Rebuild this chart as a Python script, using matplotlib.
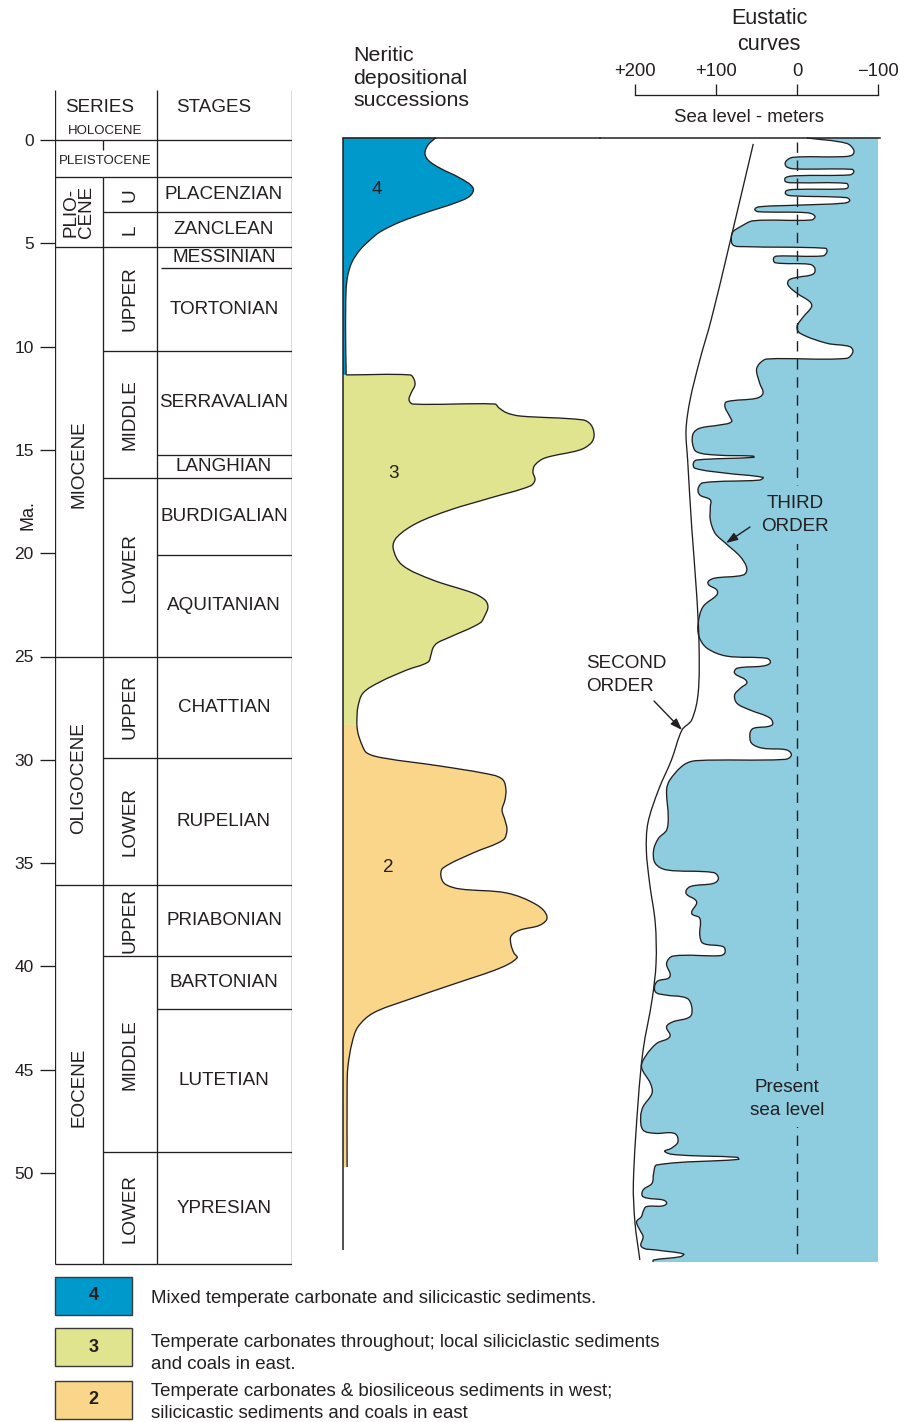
import math
import matplotlib.pyplot as plt
from matplotlib.patches import Rectangle, PathPatch
from matplotlib.path import Path

plt.rcParams['font.family'] = ['Liberation Sans', 'DejaVu Sans']
plt.rcParams['lines.scale_dashes'] = False

W, H = 910, 1422
INK = '#231f20'
SEA = '#8dcddf'
LW = 0.95

# ---------------- stratigraphic column (Ma) ----------------
series_names = ['PLEISTOCENE', 'PLIO-\nCENE', 'MIOCENE', 'OLIGOCENE', 'EOCENE']
series_bounds = [0.0, 1.8, 5.2, 25.0, 36.05, 54.4]
subseries_names = ['U', 'L', 'UPPER', 'MIDDLE', 'LOWER', 'UPPER', 'LOWER',
                   'UPPER', 'MIDDLE', 'LOWER']
subseries_bounds = [1.8, 3.5, 5.2, 10.2, 16.35, 25.0, 29.9, 36.05, 39.5, 49.0, 54.4]
stage_names = ['PLACENZIAN', 'ZANCLEAN', 'MESSINIAN', 'TORTONIAN', 'SERRAVALIAN',
               'LANGHIAN', 'BURDIGALIAN', 'AQUITANIAN', 'CHATTIAN', 'RUPELIAN',
               'PRIABONIAN', 'BARTONIAN', 'LUTETIAN', 'YPRESIAN']
stage_bounds = [1.8, 3.5, 5.2, 6.2, 10.2, 15.25, 16.35, 20.08, 25.0, 29.9,
                36.05, 39.5, 42.05, 49.0, 54.4]

# ---------------- neritic depositional successions ----------------
# extent of each succession (relative units, 0-100) against age (Ma)
seq4_ma = [-0.12, 0.24, 0.63, 0.97, 1.36, 1.84, 2.32, 2.71, 3.05, 3.48, 3.97,
           4.45, 4.84, 5.32, 5.91, 6.53, 7.26, 9.2, 11.13, 11.37]
seq4_ext = [36.2, 33.1, 31.9, 33.1, 37.7, 45.5, 50.6, 49.4, 43.6, 33.1, 22.2,
            14.4, 10.5, 6.6, 3.5, 1.9, 1.2, 1.0, 1.2, 1.2]
seq3_ma = [11.37, 11.37, 11.57, 11.86, 12.25, 12.58, 12.78, 12.78, 12.97, 13.21,
           13.36, 13.55, 13.79, 14.28, 14.67, 15.0, 15.39, 15.73, 16.07, 16.46,
           16.75, 17.33, 17.91, 18.54, 19.22, 19.75, 20.57, 21.30, 21.93, 22.27,
           22.6, 22.99, 23.38, 24.06, 24.35, 24.59, 24.93, 25.27, 25.65, 26.23,
           26.77, 27.44, 28.07, 28.31]
seq3_ext = [1.2, 26.1, 27.6, 28.0, 26.5, 25.7, 27.2, 59.1, 60.7, 63.8,
            68.9, 93.4, 96.5, 97.7, 96.5, 92.2, 78.6, 74.7, 73.9, 74.7,
            72.8, 57.2, 41.6, 28.8, 21.0, 19.5, 23.0, 35.0, 50.6, 55.3,
            56.4, 55.3, 53.3, 41.6, 36.6, 35.0, 34.2, 33.1, 24.9, 14.4,
            7.8, 5.8, 5.4, 5.4]
seq2_ma = [28.31, 28.70, 29.28, 29.67, 29.91, 30.30, 30.74, 30.98, 31.46, 31.95,
           32.43, 32.91, 33.40, 33.88, 34.51, 35.24, 35.62, 36.01, 36.25, 36.45,
           37.03, 37.61, 38.0, 38.24, 38.53, 38.96, 39.35, 39.59, 40.08, 40.80,
           41.63, 42.26, 42.93, 43.71, 44.87, 45.84, 49.71]
seq2_ext = [5.4, 5.8, 7.4, 9.3, 15.6, 37.7, 58.4, 62.3, 63.4, 63.0,
            61.9, 63.0, 63.8, 62.3, 50.6, 38.9, 38.1, 39.7, 45.5, 63.8,
            75.5, 79.4, 76.7, 68.9, 65.4, 65.4, 66.5, 67.7, 61.1, 44.4,
            24.9, 11.7, 5.8, 3.5, 1.9, 1.6, 1.6]
seq_labels = ['4', '3', '2']
seq_colors = ['#0099cc', '#e0e48e', '#f9d68a']
legend_texts = ['Mixed temperate carbonate and silicicastic sediments.',
                'Temperate carbonates throughout; local siliciclastic sediments\nand coals in east.',
                'Temperate carbonates & biosiliceous sediments in west;\nsilicicastic sediments and coals in east']

# ---------------- eustatic curves (sea level, m) ----------------
third_ma = [-0.10, 0.16, 0.48, 0.73, 0.81, 0.84, 1.05, 1.29, 1.40, 1.42,
            1.56, 1.69, 1.73, 1.82, 2.02, 2.07, 2.10, 2.29, 2.37, 2.39,
            2.45, 2.61, 2.70, 2.79, 2.94, 3.06, 3.15, 3.23, 3.35, 3.47,
            3.52, 3.68, 3.87, 3.91, 4.20, 4.44, 4.68, 5.08, 5.16, 5.24,
            5.41, 5.61, 5.62, 5.73, 5.94, 6.02, 6.21, 6.49, 6.65, 6.78,
            7.02, 7.42, 7.83, 8.07, 8.55, 9.04, 9.36, 9.84, 10.00, 10.25,
            10.57, 10.60, 10.81, 11.13, 11.78, 12.26, 12.50, 12.67, 12.91, 13.39,
            13.64, 13.79, 13.95, 14.20, 14.68, 15.09, 15.25, 15.30, 15.36, 15.49,
            15.65, 15.89, 16.13, 16.33, 16.46, 16.59, 16.86, 17.18, 17.42, 17.75,
            18.39, 19.04, 19.49, 20.17, 20.73, 21.05, 21.22, 21.46, 21.78, 22.02,
            22.59, 23.39, 24.04, 24.60, 24.98, 25.09, 25.30, 25.46, 25.57, 25.81,
            26.22, 26.54, 26.86, 27.27, 27.59, 27.99, 28.32, 28.48, 28.72, 29.20,
            29.44, 29.52, 29.77, 29.98, 30.04, 30.25, 30.98, 31.46, 32.75, 33.40,
            33.80, 34.37, 35.01, 35.33, 35.46, 35.74, 35.98, 36.14, 36.46, 36.87,
            37.43, 37.67, 38.48, 38.88, 39.05, 39.34, 39.48, 39.50, 39.85, 40.50,
            40.74, 41.22, 41.38, 41.54, 41.95, 42.43, 42.68, 42.92, 43.40, 43.72,
            44.29, 44.86, 45.66, 46.14, 46.79, 47.28, 47.92, 48.08, 48.09, 48.49,
            48.80, 48.97, 49.13, 49.24, 49.34, 49.61, 50.01, 50.50, 50.82, 51.15,
            51.31, 51.47, 51.60, 51.63, 51.87, 52.11, 52.36, 52.76, 53.08, 53.57,
            53.73, 53.92, 54.05, 54.21, 54.31]
third_sl = [-12, -61, -70, -68, -53, 5, 14, 13, 2, -68,
            -70, -65, 0, 14, 14, 0, -61, -63, -57, 0,
            13, 14, 7, -61, -65, -57, -4, 46, 52, 48,
            -12, -22, -18, 54, 70, 79, 81, 79, 66, -35,
            -37, -32, 25, 29, 27, -16, -22, -20, 0, 10,
            11, 0, -16, -18, -8, 0, -4, -37, -65, -69,
            -61, 37, 46, 50, 46, 42, 50, 87, 89, 83,
            81, 95, 120, 128, 129, 124, 99, 54, 53, 124,
            128, 126, 87, 42, 46, 116, 122, 120, 107, 107,
            107, 101, 89, 70, 62, 66, 103, 110, 99, 99,
            116, 122, 121, 111, 87, 37, 33, 42, 74, 77,
            62, 70, 77, 74, 58, 33, 31, 54, 58, 56,
            42, 13, 7, 15, 124, 140, 157, 161, 159, 161,
            171, 177, 175, 161, 103, 97, 103, 132, 137, 124,
            130, 120, 120, 116, 91, 89, 95, 153, 161, 157,
            173, 175, 163, 136, 130, 132, 153, 161, 157, 173,
            186, 192, 181, 179, 190, 193, 190, 175, 151, 147,
            155, 163, 144, 74, 72, 173, 177, 179, 190, 190,
            165, 161, 167, 186, 190, 192, 198, 194, 190, 192,
            173, 140, 144, 177, 178]
second_ma = [0.19, 5.32, 8.71, 10.65, 12.58, 14.04, 15.49, 18.73, 21.93, 24.35,
             26.77, 28.07, 28.56, 30.01, 31.46, 33.05, 34.36, 35.96, 37.90, 39.83,
             41.63, 44.05, 46.47, 50.48, 52.42, 54.21]
second_sl = [54, 85, 106, 120, 132, 137, 135, 130, 124, 121,
             122, 130, 142, 155, 171, 184, 186, 182, 175, 174,
             179, 190, 196, 202, 200, 194]
sl_ticks = [200, 100, 0, -100]
sl_ticklabels = ['+200', '+100', '0', '\u2212100']

# ---------------- layout helpers ----------------
PX_PER_MA = 20.66
PX_PER_M = 0.81
PX_PER_EXT = 2.57


def ma_at(py):
    # age at a pixel row of the figure
    return (py - 140.0) / PX_PER_MA


def sl_at(px):
    # sea level at a pixel column of the figure
    return (797.0 - px) / PX_PER_M


def curve(xs, ys, sx, sy):
    # bezier path through every read point, tangents from the neighbours
    P = [(x * sx, y * sy) for x, y in zip(xs, ys)]
    n = len(P)

    def tangent(i):
        a, b = P[max(i - 1, 0)], P[min(i + 1, n - 1)]
        dx, dy = b[0] - a[0], b[1] - a[1]
        d = math.hypot(dx, dy) or 1.0
        return dx / d, dy / d

    verts, codes = [P[0]], [Path.MOVETO]
    for i in range(n - 1):
        p1, p2 = P[i], P[i + 1]
        L = math.hypot(p2[0] - p1[0], p2[1] - p1[1]) / 3
        t1, t2 = tangent(i), tangent(i + 1)
        verts += [(p1[0] + t1[0] * L, p1[1] + t1[1] * L),
                  (p2[0] - t2[0] * L, p2[1] - t2[1] * L), p2]
        codes += [Path.CURVE4] * 3
    return [(x / sx, y / sy) for x, y in verts], codes


fig = plt.figure(figsize=(W / 100, H / 100), dpi=100)


def px_axes(x0, x1, y0, y1):
    ax = fig.add_axes([x0 / W, 1 - y1 / H, (x1 - x0) / W, (y1 - y0) / H])
    ax.patch.set_alpha(0)
    return ax


YLIM = (ma_at(1270), ma_at(0))
PANEL_TOP = ma_at(137.5)
TXT = dict(color=INK, ha='center', va='center')
FS = 13.6

# ---------------- stratigraphic table ----------------
ax = px_axes(55, 292, 0, 1270)
ax.set_xlim(0, 237)
ax.set_ylim(*YLIM)
for s in ax.spines.values():
    s.set_visible(False)
ax.set_xticks([])
ax.set_yticks(range(0, 51, 5))
ax.tick_params(axis='y', length=10.8, width=LW, color=INK, labelsize=12.5,
               labelcolor=INK, pad=4.5)
c0, c1, c2, c3 = 0, 48, 102, 237
bottom = series_bounds[-1]
ax.vlines([c0, c2, c3], ma_at(90), bottom, color=INK, lw=LW)
ax.vlines(c1, series_bounds[1], bottom, color=INK, lw=LW)
ax.vlines(c1, 0, ma_at(150), color=INK, lw=LW)
ax.hlines(series_bounds, c0, c1, color=INK, lw=LW)
ax.hlines([0] + subseries_bounds, c1, c2, color=INK, lw=LW)
ax.hlines([0] + [b for b in stage_bounds if b != 6.2], c2, c3, color=INK, lw=LW)
ax.hlines(6.2, c2 + 4, c3, color=INK, lw=LW)

ax.text(45, ma_at(107), 'SERIES', fontsize=FS, **TXT)
ax.text(159, ma_at(108), 'STAGES', fontsize=FS, **TXT)
ax.text(50, ma_at(131), 'HOLOCENE', fontsize=9.5, **TXT)
ax.text(50, ma_at(161), series_names[0], fontsize=9.5, **TXT)
series_centers = [212, 464, 778, 1087]
for name, py in zip(series_names[1:], series_centers):
    ax.text(24, ma_at(py), name, fontsize=FS, rotation=90, linespacing=0.9, **TXT)
for i, name in enumerate(subseries_names):
    mid = (subseries_bounds[i] + subseries_bounds[i + 1]) / 2
    ax.text(75, mid, name, fontsize=FS, rotation=90, **TXT)
for i, name in enumerate(stage_names):
    mid = (stage_bounds[i] + stage_bounds[i + 1]) / 2
    ax.text(169, mid, name, fontsize=FS, **TXT)
ax.text(-27, ma_at(515), 'Ma.', fontsize=13, rotation=90, **TXT)

# ---------------- neritic successions ----------------
axn = px_axes(343, 600, 0, 1270)
axn.set_xlim(0, 100)
axn.set_ylim(*YLIM)
axn.axis('off')
seqs = [(seq4_ma, seq4_ext), (seq3_ma, seq3_ext), (seq2_ma, seq2_ext)]
for (ma, ext), col in zip(seqs, seq_colors):
    verts, codes = curve(ext, ma, PX_PER_EXT, PX_PER_MA)
    fill_v = [(0, ma[0])] + verts + [(0, ma[-1]), (0, ma[0])]
    fill_c = [Path.MOVETO, Path.LINETO] + codes[1:] + [Path.LINETO, Path.CLOSEPOLY]
    axn.add_patch(PathPatch(Path(fill_v, fill_c), fc=col, ec='none', lw=0))
    axn.add_patch(PathPatch(Path(verts, codes), fc='none', ec=INK, lw=LW))
axn.vlines(0, PANEL_TOP, ma_at(1250), color=INK, lw=1.1, clip_on=False)
axn.axhline(PANEL_TOP, color=INK, lw=1.1, clip_on=False)
for lab, (vx, py) in zip(seq_labels, [(13.2, 189), (19.8, 474), (17.5, 868)]):
    axn.text(vx, ma_at(py), lab, fontsize=FS, **TXT)
axn.text(3.9, ma_at(78), 'Neritic\ndepositional\nsuccessions', fontsize=15.4,
         color=INK, ha='left', va='center', linespacing=1.25)

# ---------------- eustatic curves ----------------
axe = px_axes(600, 880, 0, 1270)
axe.set_xlim(sl_at(600), sl_at(880))
axe.set_ylim(*YLIM)
axe.axis('off')
verts, codes = curve(third_sl, third_ma, PX_PER_M, PX_PER_MA)
fill_v = verts + [(-100, third_ma[-1]), (-100, PANEL_TOP), verts[0]]
fill_c = codes + [Path.LINETO, Path.LINETO, Path.CLOSEPOLY]
axe.add_patch(PathPatch(Path(fill_v, fill_c), fc=SEA, ec='none', lw=0))
axe.add_patch(PathPatch(Path(verts, codes), fc='none', ec=INK, lw=LW, zorder=4))
verts, codes = curve(second_sl, second_ma, PX_PER_M, PX_PER_MA)
axe.add_patch(PathPatch(Path(verts, codes), fc='none', ec=INK, lw=LW, zorder=4))
axe.axhline(PANEL_TOP, color=INK, lw=1.1, clip_on=False)
axe.vlines(0, 0.1, 54.05, color=INK, lw=1.0, linestyles=(0, (7.5, 5.5)))

arrow = dict(arrowstyle='-|>,head_length=0.7,head_width=0.25',
             color=INK, lw=1.0, shrinkA=0, shrinkB=0)
axe.text(sl_at(795), ma_at(515), 'THIRD\nORDER', fontsize=FS, zorder=3,
         linespacing=1.5, bbox=dict(boxstyle='square,pad=0.45', fc=SEA, ec='none'),
         **TXT)
axe.annotate('', xy=(sl_at(726), ma_at(543)), xytext=(sl_at(750), ma_at(527)),
             arrowprops=arrow)
axe.text(sl_at(586), ma_at(675), 'SECOND\nORDER', fontsize=FS, color=INK,
         ha='left', va='center', linespacing=1.5)
axe.annotate('', xy=(sl_at(682), ma_at(730)), xytext=(sl_at(654), ma_at(701)),
             arrowprops=arrow)
axe.text(sl_at(787), ma_at(1099), 'Present\nsea level', fontsize=FS, zorder=3,
         linespacing=1.45, bbox=dict(boxstyle='square,pad=0.45', fc=SEA, ec='none'),
         **TXT)
axe.text(sl_at(749), ma_at(117), 'Sea level - meters', fontsize=13.4, **TXT)
axe.text(sl_at(769), ma_at(31.5), 'Eustatic\ncurves', fontsize=15.5,
         linespacing=1.3, **TXT)

# sea-level scale bar
axs = px_axes(600, 880, 84, 95)
axs.set_xlim(sl_at(600), sl_at(880))
axs.set_ylim(0, 1)
for k, s in axs.spines.items():
    s.set_visible(k == 'bottom')
axs.spines['bottom'].set_bounds(-100, 200)
axs.spines['bottom'].set_linewidth(LW)
axs.spines['bottom'].set_color(INK)
axs.set_yticks([])
axs.set_xticks(sl_ticks)
axs.set_xticklabels(sl_ticklabels)
axs.tick_params(axis='x', direction='in', length=8, width=LW, color=INK,
                bottom=True, top=False, labelbottom=False, labeltop=True,
                labelsize=13.3, labelcolor=INK, pad=3)

# ---------------- legend ----------------
axl = px_axes(0, 910, 1270, 1422)
axl.set_xlim(0, 910)
axl.set_ylim(1422, 1270)
axl.axis('off')
for lab, col, txt, row, ty in zip(seq_labels, seq_colors, legend_texts,
                                  [1277, 1328, 1381], [1298.5, 1353.5, 1402.5]):
    axl.add_patch(Rectangle((55, row), 77, 38, facecolor=col,
                            edgecolor='#3a3a3a', lw=1.0))
    axl.text(93.5, row + 19, lab, fontsize=13, fontweight='bold', **TXT)
    axl.text(151, ty, txt, fontsize=13.4, color=INK, ha='left', va='center',
             linespacing=1.45)

fig.savefig('out.png', dpi=100)
